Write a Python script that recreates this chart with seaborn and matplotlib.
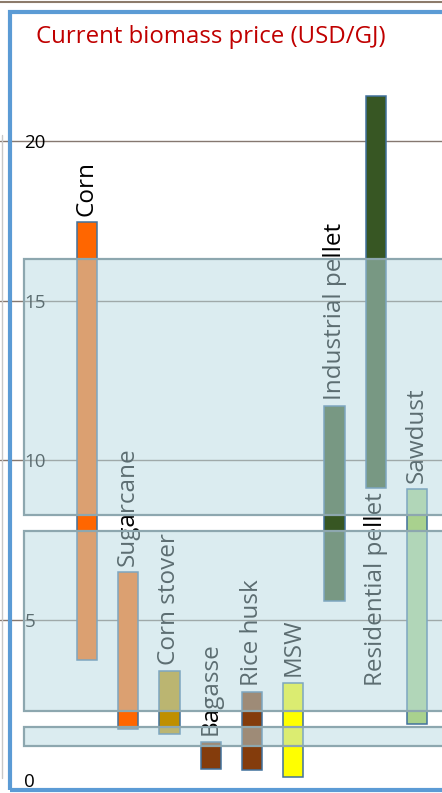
import numpy as np
import pandas as pd
import matplotlib
matplotlib.use('Agg')
from matplotlib import pyplot as plt
from matplotlib.patches import Rectangle
from matplotlib.lines import Line2D
import seaborn as sns

# ---------------- данные ----------------
names = ['Corn', 'Sugarcane', 'Corn stover', 'Bagasse', 'Rice husk', 'MSW',
         'Industrial pellet', 'Residential pellet', 'Sawdust']
price_low = [3.75, 1.6, 1.45, 0.35, 0.3, 0.1, 5.6, 9.15, 1.75]
price_high = [17.45, 6.5, 3.4, 1.2, 2.75, 3.05, 11.7, 21.4, 9.1]
bar_colors = ['#FF6600', '#FF6600', '#BF8F00', '#843C0C', '#843C0C',
              '#FFFF00', '#375623', '#375623', '#A9D18E']
label_above = [True, True, True, True, True, True, True, False, True]

band_low = [8.3, 2.15, 1.05]
band_high = [16.3, 7.8, 1.65]

yticks = [0, 5, 10, 15, 20]
title = 'Current biomass price (USD/GJ)'

df = pd.DataFrame({'name': names, 'low': price_low, 'high': price_high})
df['span'] = df['high'] - df['low']

sns.set_style('white')
plt.rcParams['font.family'] = ['Open Sans', 'DejaVu Sans']

fig = plt.figure(figsize=(4.42, 7.93), dpi=100)
ax = fig.add_axes([0, 0, 1, 1])

# плавающие столбцы (диапазон цен)
sns.barplot(data=df, x='name', y='span', bottom=df['low'].values, width=0.485,
            color='#FF6600', edgecolor='#41719C', linewidth=1.1,
            errorbar=None, ax=ax, zorder=2)
for patch, c in zip(ax.patches, bar_colors):
    patch.set_facecolor(c)

# подписи над/под столбцами
for i, row in df.iterrows():
    if label_above[i]:
        ax.text(i, row['high'] + 0.2, row['name'], rotation=90, ha='center',
                va='bottom', fontsize=17.5, color='black', zorder=1)
    else:
        ax.text(i, row['low'] - 0.15, row['name'], rotation=90, ha='center',
                va='top', fontsize=17.5, color='black', zorder=1)

# полупрозрачные полосы
for lo, hi in zip(band_low, band_high):
    ax.add_patch(Rectangle((-1.527, lo), 12, hi - lo,
                           facecolor=(185/255, 219/255, 227/255, 0.5),
                           edgecolor='#8DA7AF', linewidth=1.6, zorder=3))

ax.set_xlim(-2.109, 8.606)
ax.set_ylim(-0.407, 24.41)

# сетка и подписи оси Y внутри
ax.set_axisbelow(True)
ax.set_yticks(yticks)
ax.set_yticklabels([str(t) for t in yticks])
ax.yaxis.grid(True, color='#857870', linewidth=1.0)
ax.yaxis.get_gridlines()[0].set_visible(False)
ax.tick_params(axis='y', length=0, pad=-17.5, labelsize=13.5, labelcolor='black')
for lbl in ax.get_yticklabels():
    lbl.set_horizontalalignment('left')
ax.set_xticks([])
ax.set_xlabel('')
ax.set_ylabel('')
for s in ax.spines.values():
    s.set_visible(False)

# рамки
fig.add_artist(Rectangle((10/442, 3/793), 1, (790 - 12)/793, transform=fig.transFigure,
                         fill=False, edgecolor='#5B9BD5', linewidth=3, zorder=10))
fig.add_artist(Line2D([0, 1], [1 - 2/793, 1 - 2/793], transform=fig.transFigure,
                      color='#8C7B6B', linewidth=1.5))
fig.add_artist(Line2D([2/442, 2/442], [1 - 135/793, 1 - 778/793], transform=fig.transFigure,
                      color='#C8C8C8', linewidth=1))

fig.text(36/442, 1 - 37/793, title, color='#C00000', fontsize=17.3,
         ha='left', va='center')

fig.savefig('out.png', dpi=100)
